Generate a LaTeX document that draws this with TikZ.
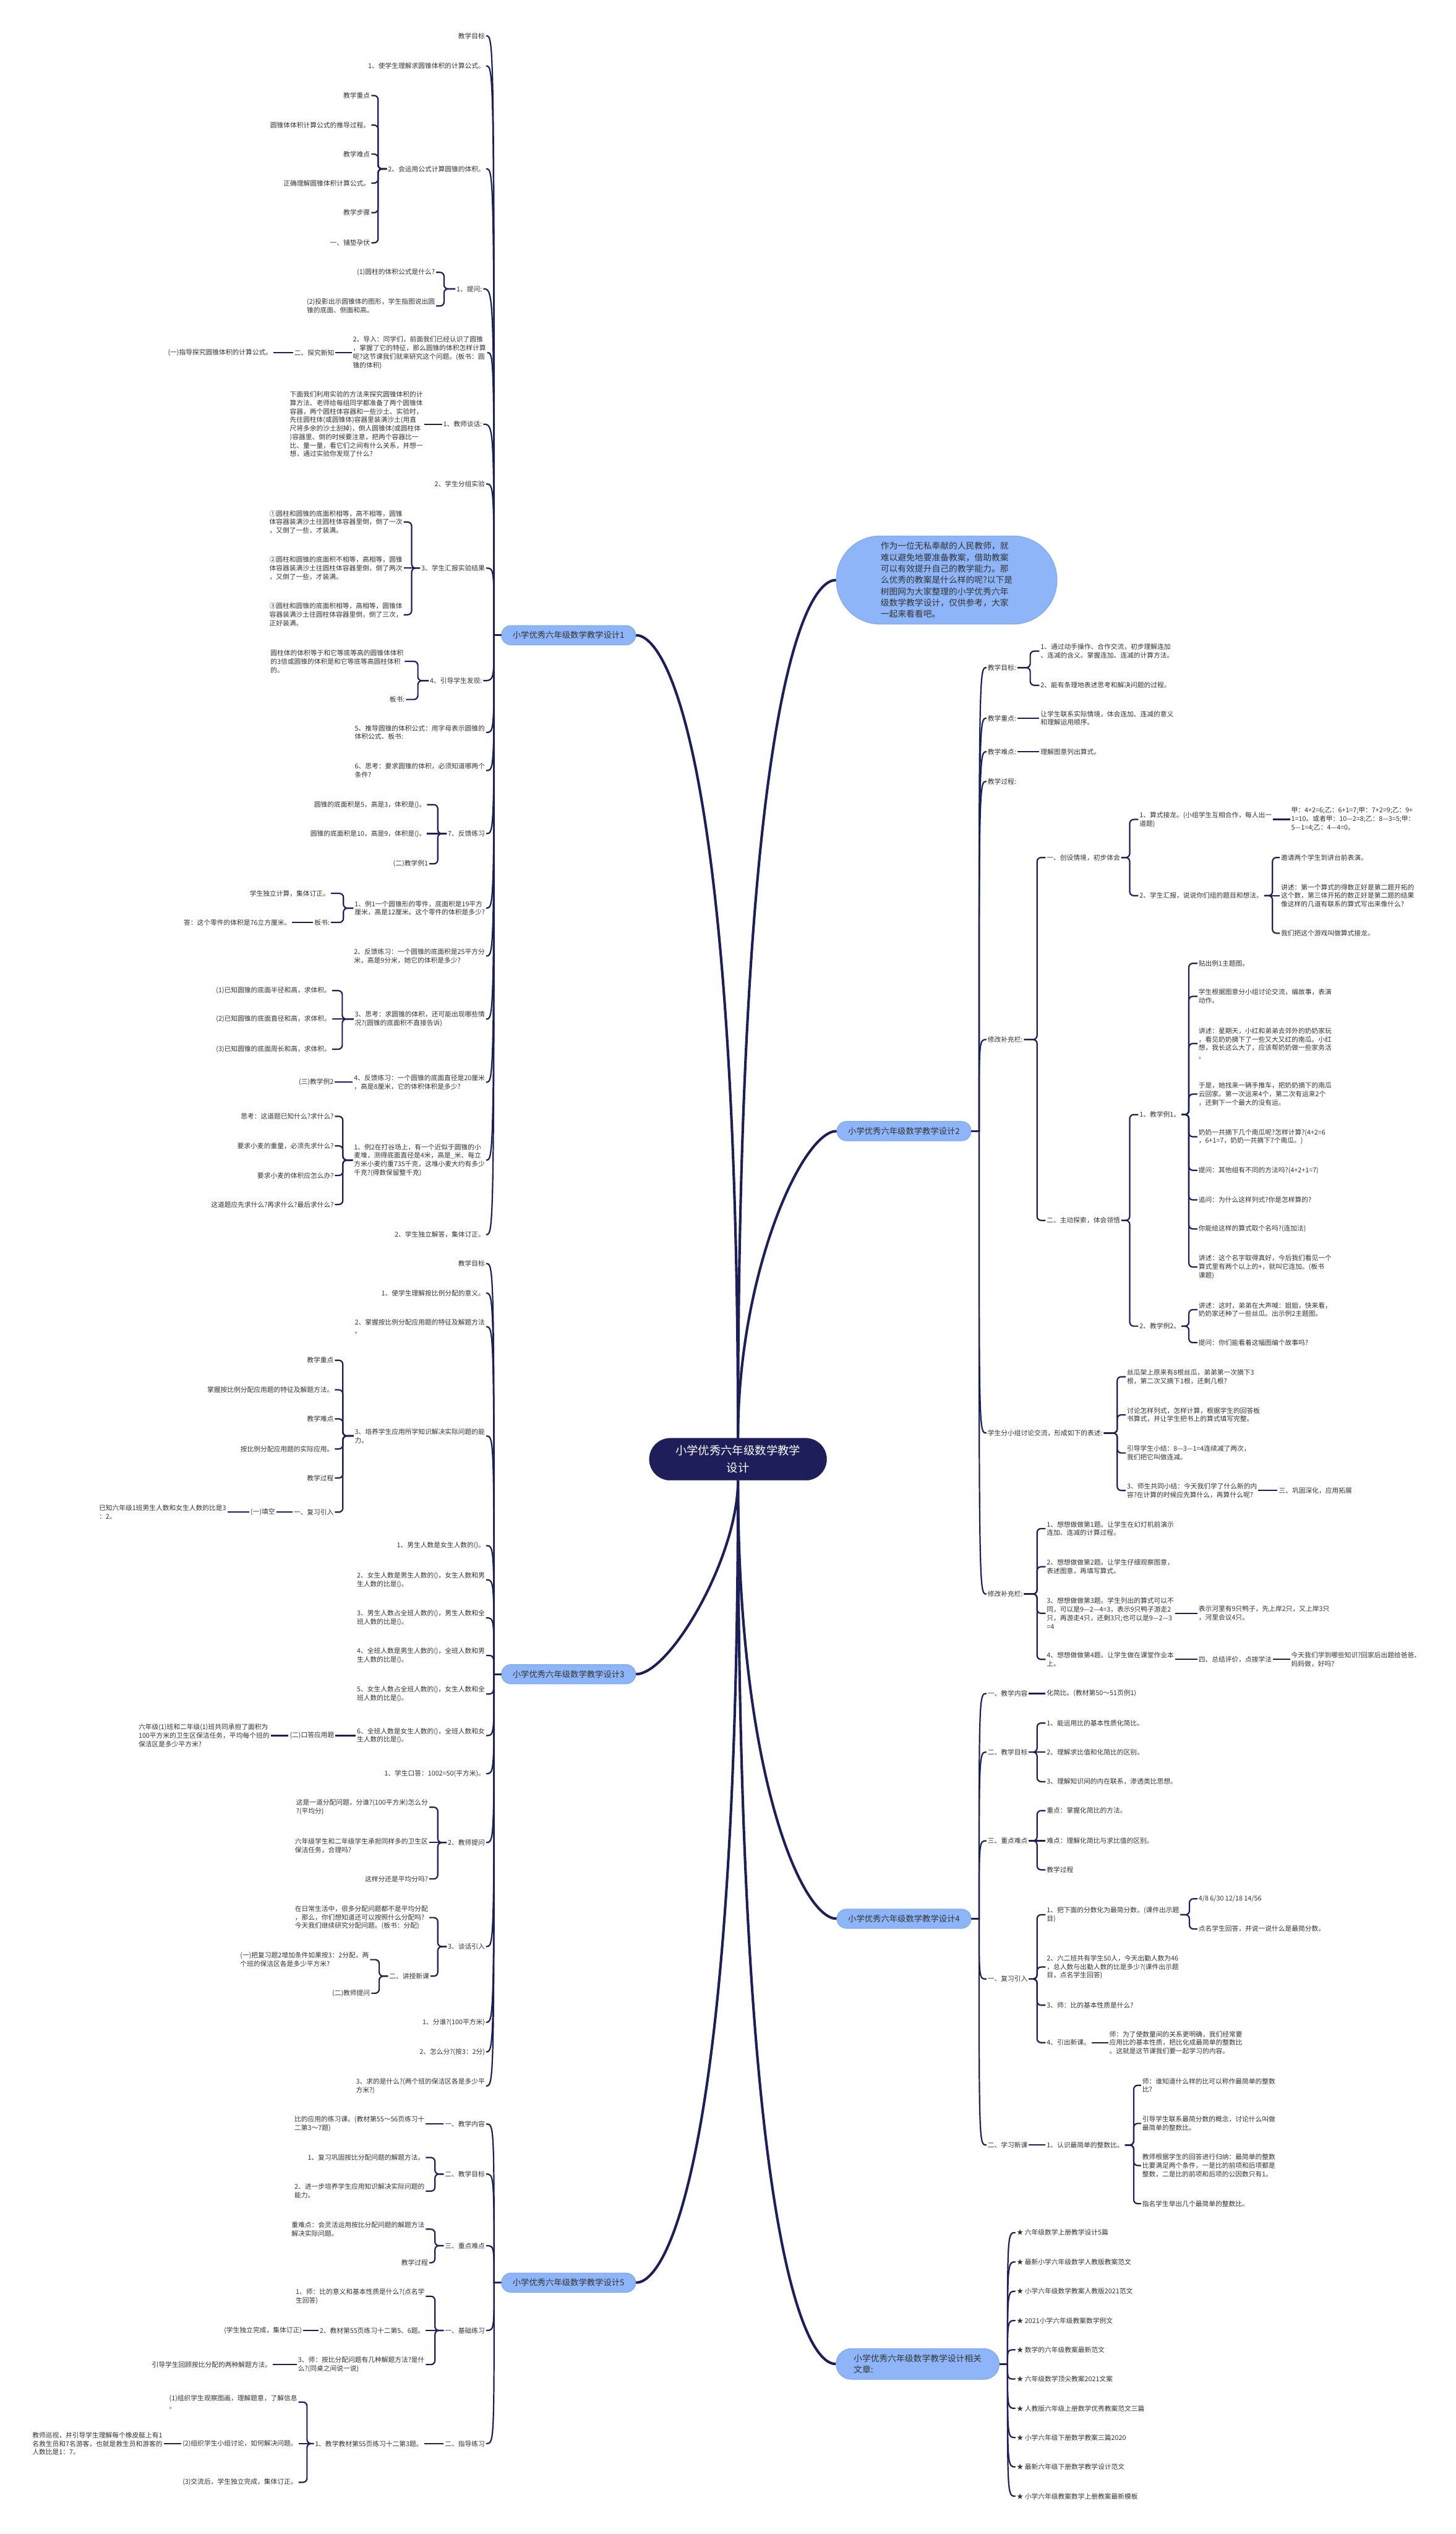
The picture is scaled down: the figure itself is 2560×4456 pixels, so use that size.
\documentclass[tikz,border=0pt]{standalone}
\usepackage{fontspec}
\newfontfamily\cjk{Noto Sans CJK SC}
\usetikzlibrary{calc}
\definecolor{lc}{RGB}{28,31,88}
\definecolor{cf}{RGB}{29,30,90}
\definecolor{bf}{HTML}{8DB5F8}
\definecolor{bd}{HTML}{7DA8F0}
\definecolor{tc}{HTML}{333333}
\newcommand\lff{\cjk\fontsize{11.7}{15}\selectfont}
\newcommand\lvf{\cjk\fontsize{14.5}{21}\selectfont}
\newcommand\intf{\cjk\fontsize{15}{20}\selectfont}
\newcommand\ctf{\cjk\fontsize{20}{30}\selectfont}
\newcommand\spL[3]{\draw[ln] let \p1=(#1.west), \p2=(#3.east) in (\p1) -- (#2pt,\y1) .. controls (#2pt,\y2) .. (\p2);}
\newcommand\spR[3]{\draw[ln] let \p1=(#1.east), \p2=(#3.west) in (\p1) -- (#2pt,\y1) .. controls (#2pt,\y2) .. (\p2);}
\newcommand\brL[3]{\draw[ln,rounded corners=7pt] let \p1=(#1.west), \p2=(#3.east) in (\p1) -- (#2pt,\y1) -- (#2pt,\y2) -- (\p2);}
\newcommand\brR[3]{\draw[ln,rounded corners=7pt] let \p1=(#1.east), \p2=(#3.west) in (\p1) -- (#2pt,\y1) -- (#2pt,\y2) -- (\p2);}
\newcommand\stL[2]{\draw[ln] (#1.west) -- (#2.east |- #1.west);}
\newcommand\stR[2]{\draw[ln] (#1.east) -- (#2.west |- #1.east);}
\tikzset{
 ln/.style={draw=lc,line width=2.4pt},
 mln/.style={draw=lc,line width=4.5pt},
 lf/.style={font=\lff,text=tc,inner sep=2pt,align=left},
 nl/.style={lf,anchor=east},
 nr/.style={lf,anchor=west},
 lv/.style={fill=bf,draw=bd,line width=1.2pt,rounded corners=17pt,minimum height=34pt,minimum width=236pt,font=\lvf,text=tc,inner sep=2pt,align=left},
 ctr/.style={fill=cf,draw=cf,rounded corners=37pt,minimum width=312pt,minimum height=74pt,text=white,font=\ctf,align=center,inner sep=2pt}
}
\begin{document}
\begin{tikzpicture}[x=1pt,y=-1pt]
\fill[white] (0,0) rectangle (2560,4456);
\useasboundingbox (0,0) rectangle (2560,4456);

% ---------- main nodes ----------
\node[ctr] (C) at (1298,2566) {小学优秀六年级数学教学\\设计};
\node[lv] (N1) at (1000,1117) {小学优秀六年级数学教学设计1};
\node[lv] (N2) at (1590,1989) {小学优秀六年级数学教学设计2};
\node[lv] (N3) at (1000,2944) {小学优秀六年级数学教学设计3};
\node[lv] (N4) at (1590,3374) {小学优秀六年级数学教学设计4};
\node[lv] (N5) at (1000,4014) {小学优秀六年级数学教学设计5};
\node[lv,minimum width=287pt,minimum height=54pt,rounded corners=27pt,font=\intf] (NR) at (1614,4157) {小学优秀六年级数学教学设计相关\\文章:};
\node[lv,minimum width=388pt,minimum height=155pt,rounded corners=77pt,font=\intf] (NI) at (1665,1020) {作为一位无私奉献的人民教师，就\\难以避免地要准备教案，借助教案\\可以有效提升自己的教学能力。那\\么优秀的教案是什么样的呢?以下是\\树图网为大家整理的小学优秀六年\\级数学教学设计，仅供参考，大家\\一起来看看吧。};

\draw[mln] (C.north) .. controls (1298,1367) and (1178,1117) .. (N1.east);
\draw[mln] (C.north) .. controls (1298,1270) and (1411,1020) .. (NI.west);
\draw[mln] (C.north) .. controls (1298,2239) and (1411,1989) .. (N2.west);
\draw[mln] (C.south) .. controls (1298,2739) and (1178,2944) .. (N3.east);
\draw[mln] (C.south) .. controls (1298,3124) and (1411,3374) .. (N4.west);
\draw[mln] (C.south) .. controls (1298,3764) and (1178,4014) .. (N5.east);
\draw[mln] (C.south) .. controls (1298,3907) and (1411,4157) .. (NR.west);

% ---------- branch 1 ----------
\node[nl] (a1) at (855,63) {教学目标};
\node[nl] (a2) at (855,116) {1、使学生理解求圆锥体积的计算公式。};
\node[nl] (a3) at (855,297) {2、会运用公式计算圆锥的体积。};
\node[nl] (a3a) at (653,168) {教学重点};
\node[nl] (a3b) at (653,220) {圆锥体体积计算公式的推导过程。};
\node[nl] (a3c) at (653,271) {教学难点};
\node[nl] (a3d) at (653,322) {正确理解圆锥体积计算公式。};
\node[nl] (a3e) at (653,374) {教学步骤};
\node[nl] (a3f) at (653,427) {一、铺垫孕伏};
\node[nl] (a4) at (850,508) {1、提问:};
\node[nl] (a4a) at (767,479) {(1)圆柱的体积公式是什么?};
\node[nl] (a4b) at (767,538) {(2)投影出示圆锥体的图形，学生指图说出圆\\锥的底面、侧面和高。};
\node[nl] (a5) at (857,620) {2、导入：同学们，前面我们已经认识了圆锥\\，掌握了它的特征，那么圆锥的体积怎样计算\\呢?这节课我们就来研究这个问题。(板书：圆\\锥的体积)};
\node[nl] (a5a) at (590,620) {二、探究新知};
\node[nl] (a5b) at (481,620) {(一)指导探究圆锥体积的计算公式。};
\node[nl] (a6) at (850,746) {1、教师谈话:};
\node[nl] (a6a) at (746,746) {下面我们利用实验的方法来探究圆锥体积的计\\算方法、老师给每组同学都准备了两个圆锥体\\容器，两个圆柱体容器和一些沙土、实验时，\\先往圆柱体(或圆锥体)容器里装满沙土(用直\\尺将多余的沙土刮掉)，倒人圆锥体(或圆柱体\\)容器里、倒的时候要注意，把两个容器比一\\比、量一量，看它们之间有什么关系，并想一\\想，通过实验你发现了什么?};
\node[nl] (a7) at (855,851) {2、学生分组实验};
\node[nl] (a8) at (855,999) {3、学生汇报实验结果};
\node[nl] (a8a) at (710,918) {①圆柱和圆锥的底面积相等，高不相等，圆锥\\体容器装满沙土往圆柱体容器里倒，倒了一次\\，又倒了一些，才装满。};
\node[nl] (a8b) at (710,999) {②圆柱和圆锥的底面积不相等，高相等，圆锥\\体容器装满沙土往圆柱体容器里倒，倒了两次\\，又倒了一些，才装满。};
\node[nl] (a8c) at (710,1081) {③圆柱和圆锥的底面积相等，高相等，圆锥体\\容器装满沙土往圆柱体容器里倒，倒了三次，\\正好装满。};
\node[nl] (a9) at (850,1197) {4、引导学生发现:};
\node[nl] (a9a) at (712,1163) {圆柱体的体积等于和它等底等高的圆锥体体积\\的3倍或圆锥的体积是和它等底等高圆柱体积\\的。};
\node[nl] (a9b) at (714,1230) {板书:};
\node[nl] (a10) at (855,1288) {5、推导圆锥的体积公式：用字母表示圆锥的\\体积公式、板书:};
\node[nl] (a11) at (855,1355) {6、思考：要求圆锥的体积，必须知道哪两个\\条件?};
\node[nl] (a12) at (855,1466) {7、反馈练习};
\node[nl] (a12a) at (751,1415) {圆锥的底面积是5，高是3，体积是()。};
\node[nl] (a12b) at (751,1466) {圆锥的底面积是10，高是9，体积是()。};
\node[nl] (a12c) at (755,1519) {(二)教学例1};
\node[nl] (a13) at (855,1597) {1、例1一个圆锥形的零件，底面积是19平方\\厘米，高是12厘米。这个零件的体积是多少?};
\node[nl] (a13a) at (582,1571) {学生独立计算，集体订正。};
\node[nl] (a13b) at (582,1622) {板书:};
\node[nl] (a13c) at (514,1622) {答：这个零件的体积是76立方厘米。};
\node[nl] (a14) at (855,1681) {2、反馈练习：一个圆锥的底面积是25平方分\\米，高是9分米，她它的体积是多少?};
\node[nl] (a15) at (855,1792) {3、思考：求圆锥的体积，还可能出现哪些情\\况?(圆锥的底面积不直接告诉)};
\node[nl] (a15a) at (584,1742) {(1)已知圆锥的底面半径和高，求体积。};
\node[nl] (a15b) at (584,1792) {(2)已知圆锥的底面直径和高，求体积。};
\node[nl] (a15c) at (584,1845) {(3)已知圆锥的底面周长和高，求体积。};
\node[nl] (a16) at (855,1903) {4、反馈练习：一个圆锥的底面直径是20厘米\\，高是8厘米，它的体积体积是多少?};
\node[nl] (a16a) at (589,1903) {(三)教学例2};
\node[nl] (a17) at (855,2040) {1、例2在打谷场上，有一个近似于圆锥的小\\麦堆，测得底面直径是4米，高是\_米、每立\\方米小麦约重735千克，这堆小麦大约有多少\\千克?(得数保留整千克)};
\node[nl] (a17a) at (589,1963) {思考：这道题已知什么?求什么?};
\node[nl] (a17b) at (589,2015) {要求小麦的重量，必须先求什么?};
\node[nl] (a17c) at (589,2067) {要求小麦的体积应怎么办?};
\node[nl] (a17d) at (589,2118) {这道题应先求什么?再求什么?最后求什么?};
\node[nl] (a18) at (855,2171) {2、学生独立解答，集体订正。};

\foreach \kid in {a1,a2,a3,a4,a5,a6,a7,a8,a9,a10,a11,a12,a13,a14,a15,a16,a17,a18} {\spL{N1}{869}{\kid}}
\foreach \kid in {a3a,a3b,a3c,a3d,a3e,a3f} {\brL{a3}{665}{\kid}}
\brL{a4}{781}{a4a} \brL{a4}{781}{a4b}
\stL{a5}{a5a} \stL{a5a}{a5b}
\stL{a6}{a6a}
\brL{a8}{724}{a8a} \stL{a8}{a8b} \brL{a8}{724}{a8c}
\brL{a9}{735}{a9a} \brL{a9}{735}{a9b}
\brL{a12}{770}{a12a} \stL{a12}{a12b} \brL{a12}{770}{a12c}
\brL{a13}{604}{a13a} \brL{a13}{604}{a13b} \stL{a13b}{a13c}
\brL{a15}{602}{a15a} \stL{a15}{a15b} \brL{a15}{602}{a15c}
\stL{a16}{a16a}
\foreach \kid in {a17a,a17b,a17c,a17d} {\brL{a17}{603}{\kid}}

% ---------- branch 3 ----------
\node[nl] (b1) at (855,2222) {教学目标};
\node[nl] (b2) at (855,2274) {1、使学生理解按比例分配的意义。};
\node[nl] (b3) at (855,2333) {2、掌握按比例分配应用题的特征及解题方法\\。};
\node[nl] (b4) at (855,2525) {3、培养学生应用所学知识解决实际问题的能\\力。};
\node[nl] (b4a) at (589,2392) {教学重点};
\node[nl] (b4b) at (589,2444) {掌握按比例分配应用题的特征及解题方法。};
\node[nl] (b4c) at (589,2495) {教学难点};
\node[nl] (b4d) at (589,2548) {按比例分配应用题的实际应用。};
\node[nl] (b4e) at (589,2599) {教学过程};
\node[nl] (b4f) at (589,2659) {一、复习引入};
\node[nl] (b4g) at (486,2659) {(一)填空};
\node[nl] (b4h) at (400,2659) {已知六年级1班男生人数和女生人数的比是3\\：2。};
\node[nl] (b5) at (855,2718) {1、男生人数是女生人数的()。};
\node[nl] (b6) at (855,2778) {2、女生人数是男生人数的()，女生人数和男\\生人数的比是()。};
\node[nl] (b7) at (855,2845) {3、男生人数占全班人数的()，男生人数和全\\班人数的比是()。};
\node[nl] (b8) at (855,2911) {4、全班人数是男生人数的()，全班人数和男\\生人数的比是()。};
\node[nl] (b9) at (855,2979) {5、女生人数占全班人数的()，女生人数和全\\班人数的比是()。};
\node[nl] (b10) at (855,3052) {6、全班人数是女生人数的()，全班人数和女\\生人数的比是()。};
\node[nl] (b10a) at (590,3052) {(二)口答应用题};
\node[nl] (b10b) at (476,3052) {六年级(1)班和二年级(1)班共同承担了面积为\\100平方米的卫生区保洁任务，平均每个班的\\保洁区是多少平方米?};
\node[nl] (b11) at (855,3119) {1、学生口答：1002=50(平方米)。};
\node[nl] (b12) at (855,3240) {2、教师提问};
\node[nl] (b12a) at (755,3178) {这是一道分配问题，分谁?(100平方米)怎么分\\?(平均分)};
\node[nl] (b12b) at (755,3246) {六年级学生和二年级学生承担同样多的卫生区\\保洁任务，合理吗?};
\node[nl] (b12c) at (755,3304) {这样分还是平均分吗?};
\node[nl] (b13) at (855,3423) {3、谈话引入};
\node[nl] (b13a) at (755,3372) {在日常生活中，很多分配问题都不是平均分配\\，那么，你们想知道还可以按照什么分配吗?\\今天我们继续研究分配问题。(板书：分配)};
\node[nl] (b13b) at (757,3475) {二、讲授新课};
\node[nl] (b13c) at (651,3446) {(一)把复习题2增加条件如果按3：2分配，两\\个班的保洁区各是多少平方米?};
\node[nl] (b13d) at (653,3505) {(二)教师提问};
\node[nl] (b14) at (855,3556) {1、分谁?(100平方米)};
\node[nl] (b15) at (855,3608) {2、怎么分?(按3：2分)};
\node[nl] (b16) at (855,3668) {3、求的是什么?(两个班的保洁区各是多少平\\方米?)};

\foreach \kid in {b1,b2,b3,b4,b5,b6,b7,b8,b9,b10,b11,b12,b13,b14,b15,b16} {\spL{N3}{869}{\kid}}
\foreach \kid in {b4a,b4b,b4c,b4d,b4e,b4f} {\brL{b4}{603}{\kid}}
\stL{b4f}{b4g} \stL{b4g}{b4h}
\stL{b10}{b10a} \stL{b10a}{b10b}
\brL{b12}{770}{b12a} \stL{b12}{b12b} \brL{b12}{770}{b12c}
\brL{b13}{770}{b13a} \brL{b13}{770}{b13b}
\brL{b13b}{667}{b13c} \brL{b13b}{667}{b13d}

% ---------- branch 5 ----------
\node[nl] (e1) at (855,3735) {一、教学内容};
\node[nl] (e1a) at (749,3735) {比的应用的练习课。(教材第55～56页练习十\\二第3～7题)};
\node[nl] (e2) at (855,3823) {二、教学目标};
\node[nl] (e2a) at (749,3794) {1、复习巩固按比分配问题的解题方法。};
\node[nl] (e2b) at (749,3853) {2、进一步培养学生应用知识解决实际问题的\\能力。};
\node[nl] (e3) at (855,3949) {三、重点难点};
\node[nl] (e3a) at (749,3920) {重难点：会灵活运用按比分配问题的解题方法\\解决实际问题。};
\node[nl] (e3b) at (755,3979) {教学过程};
\node[nl] (e4) at (855,4098) {一、基础练习};
\node[nl] (e4a) at (749,4038) {1、师：比的意义和基本性质是什么?(点名学\\生回答)};
\node[nl] (e4b) at (749,4098) {2、教材第55页练习十二第5、6题。};
\node[nl] (e4c) at (533,4098) {(学生独立完成，集体订正)};
\node[nl] (e4d) at (749,4158) {3、师：按比分配问题有几种解题方法?是什\\么?(同桌之间说一说)};
\node[nl] (e4e) at (480,4158) {引导学生回顾按比分配的两种解题方法。};
\node[nl] (e5) at (855,4297) {二、指导练习};
\node[nl] (e5a) at (746,4297) {1、教学教材第55页练习十二第3题。};
\node[nl] (e5b) at (525,4224) {(1)组织学生观察图画，理解题意，了解信息\\。};
\node[nl] (e5c) at (525,4297) {(2)组织学生小组讨论，如何解决问题。};
\node[nl] (e5d) at (288,4297) {教师巡视，并引导学生理解每个橡皮艇上有1\\名救生员和7名游客，也就是救生员和游客的\\人数比是1：7。};
\node[nl] (e5e) at (525,4365) {(3)交流后，学生独立完成，集体订正。};

\foreach \kid in {e1,e2,e3,e4,e5} {\spL{N5}{869}{\kid}}
\stL{e1}{e1a}
\brL{e2}{765}{e2a} \brL{e2}{765}{e2b}
\brL{e3}{765}{e3a} \brL{e3}{765}{e3b}
\brL{e4}{765}{e4a} \stL{e4}{e4b} \brL{e4}{765}{e4d}
\stL{e4b}{e4c} \stL{e4d}{e4e}
\stL{e5}{e5a}
\brL{e5a}{540}{e5b} \stL{e5a}{e5c} \brL{e5a}{540}{e5e}
\stL{e5c}{e5d}

% ---------- branch 2 ----------
\node[nr] (r1) at (1735,1174) {教学目标:};
\node[nr] (r1a) at (1828,1145) {1、通过动手操作、合作交流，初步理解连加\\、连减的含义。掌握连加、连减的计算方法。};
\node[nr] (r1b) at (1828,1205) {2、能有条理地表述思考和解决问题的过程。};
\node[nr] (r2) at (1735,1263) {教学重点:};
\node[nr] (r2a) at (1828,1263) {让学生联系实际情境，体会连加、连减的意义\\和理解运用顺序。};
\node[nr] (r3) at (1735,1322) {教学难点:};
\node[nr] (r3a) at (1828,1322) {理解图意列出算式。};
\node[nr] (r4) at (1735,1374) {教学过程:};
\node[nr] (r5) at (1735,1828) {修改补充栏:};
\node[nr] (r5a) at (1839,1508) {一、创设情境，初步体会};
\node[nr] (r5a1) at (2002,1441) {1、算式接龙。(小组学生互相合作，每人出一\\道题)};
\node[nr] (r5a1x) at (2269,1441) {甲：4+2=6;乙：6+1=7;甲：7+2=9;乙：9+\\1=10。或者甲：10—2=8;乙：8—3=5;甲：\\5—1=4;乙：4—4=0。};
\node[nr] (r5a2) at (2002,1575) {2、学生汇报，说说你们组的题目和想法。};
\node[nr] (r5a2a) at (2251,1508) {邀请两个学生到讲台前表演。};
\node[nr] (r5a2b) at (2251,1575) {讲述：第一个算式的得数正好是第二题开拓的\\这个数，第三体开拓的数正好是第二题的结果\\像这样的几道有联系的算式写出来像什么?};
\node[nr] (r5a2c) at (2251,1641) {我们把这个游戏叫做算式接龙。};
\node[nr] (r5b) at (1839,2146) {二、主动探索，体会领悟};
\node[nr] (r5b1) at (2002,1960) {1、教学例1。};
\node[nr] (r5b1a) at (2106,1694) {贴出例1主题图。};
\node[nr] (r5b1b) at (2106,1752) {学生根据图意分小组讨论交流，编故事，表演\\动作。};
\node[nr] (r5b1c) at (2106,1835) {讲述：星期天，小红和弟弟去郊外的奶奶家玩\\，看见奶奶摘下了一些又大又红的南瓜。小红\\想，我长这么大了，应该帮奶奶做一些家务活\\。};
\node[nr] (r5b1d) at (2106,1924) {于是，她找来一辆手推车，把奶奶摘下的南瓜\\云回家。第一次运来4个，第二次有运来2个\\，还剩下一个最大的没有运。};
\node[nr] (r5b1e) at (2106,1999) {奶奶一共摘下几个南瓜呢?怎样计算?(4+2=6\\，6+1=7，奶奶一共摘下7个南瓜。)};
\node[nr] (r5b1f) at (2106,2058) {提问：其他组有不同的方法吗?(4+2+1=7)};
\node[nr] (r5b1g) at (2106,2110) {追问：为什么这样列式?你是怎样算的?};
\node[nr] (r5b1h) at (2106,2161) {你能给这样的算式取个名吗?(连加法)};
\node[nr] (r5b1i) at (2106,2228) {讲述：这个名字取得真好，今后我们看见一个\\算式里有两个以上的+，就叫它连加。(板书\\课题)};
\node[nr] (r5b2) at (2002,2332) {2、教学例2。};
\node[nr] (r5b2a) at (2106,2303) {讲述：这时，弟弟在大声喊：姐姐，快来看，\\奶奶家还种了一些丝瓜。出示例2主题图。};
\node[nr] (r5b2b) at (2106,2361) {提问：你们能看着这幅图编个故事吗?};
\node[nr] (r6) at (1735,2520) {学生分小组讨论交流，形成如下的表述:};
\node[nr] (r6a) at (1980,2421) {丝瓜架上原来有8根丝瓜，弟弟第一次摘下3\\根，第二次又摘下1根，还剩几根?};
\node[nr] (r6b) at (1980,2488) {讨论怎样列式，怎样计算，根据学生的回答板\\书算式，并让学生把书上的算式填写完整。};
\node[nr] (r6c) at (1980,2555) {引导学生小结：8—3—1=4连续减了两次，\\我们把它叫做连减。};
\node[nr] (r6d) at (1980,2621) {3、师生共同小结：今天我们学了什么新的内\\容?在计算的时候应先算什么，再算什么呢?};
\node[nr] (r6e) at (2247,2621) {三、巩固深化，应用拓展};
\node[nr] (r7) at (1735,2803) {修改补充栏:};
\node[nr] (r7a) at (1839,2688) {1、想想做做第1题。让学生在幻灯机前演示\\连加、连减的计算过程。};
\node[nr] (r7b) at (1839,2755) {2、想想做做第2题。让学生仔细观察图意，\\表述图意，再填写算式。};
\node[nr] (r7c) at (1839,2837) {3、想想做做第3题。学生列出的算式可以不\\同，可以是9—2—4=3，表示9只鸭子游走2\\只，再游走4只，还剩3只;也可以是9—2—3\\=4};
\node[nr] (r7cx) at (2106,2837) {表示河里有9只鸭子，先上岸2只，又上岸3只\\，河里会议4只。};
\node[nr] (r7d) at (1839,2918) {4、想想做做第4题。让学生做在课堂作业本\\上。};
\node[nr] (r7dx) at (2106,2918) {四、总结评价，点拨学法};
\node[nr] (r7dy) at (2269,2918) {今天我们学到哪些知识?回家后出题给爸爸、\\妈妈做，好吗?};

\foreach \kid in {r1,r2,r3,r4,r5,r6,r7} {\spR{N2}{1722}{\kid}}
\brR{r1}{1812}{r1a} \brR{r1}{1812}{r1b}
\stR{r2}{r2a} \stR{r3}{r3a}
\brR{r5}{1824}{r5a} \brR{r5}{1824}{r5b}
\brR{r5a}{1987}{r5a1} \brR{r5a}{1987}{r5a2}
\stR{r5a1}{r5a1x}
\brR{r5a2}{2238}{r5a2a} \stR{r5a2}{r5a2b} \brR{r5a2}{2238}{r5a2c}
\brR{r5b}{1987}{r5b1} \brR{r5b}{1987}{r5b2}
\foreach \kid in {r5b1a,r5b1b,r5b1c,r5b1d,r5b1e,r5b1f,r5b1g,r5b1h,r5b1i} {\brR{r5b1}{2091}{\kid}}
\brR{r5b2}{2091}{r5b2a} \brR{r5b2}{2091}{r5b2b}
\foreach \kid in {r6a,r6b,r6c,r6d} {\brR{r6}{1965}{\kid}}
\stR{r6d}{r6e}
\brR{r7}{1824}{r7a} \brR{r7}{1824}{r7b} \brR{r7}{1824}{r7c} \brR{r7}{1824}{r7d}
\stR{r7c}{r7cx} \stR{r7d}{r7dx} \stR{r7dx}{r7dy}

% ---------- branch 4 ----------
\node[nr] (s1) at (1735,2978) {一、教学内容};
\node[nr] (s1a) at (1839,2978) {化简比。(教材第50～51页例1)};
\node[nr] (s2) at (1735,3081) {二、教学目标};
\node[nr] (s2a) at (1839,3030) {1、能运用比的基本性质化简比。};
\node[nr] (s2b) at (1839,3081) {2、理解求比值和化简比的区别。};
\node[nr] (s2c) at (1839,3133) {3、理解知识间的内在联系，渗透类比思想。};
\node[nr] (s3) at (1735,3237) {三、重点难点};
\node[nr] (s3a) at (1839,3184) {重点：掌握化简比的方法。};
\node[nr] (s3b) at (1839,3237) {难点：理解化简比与求比值的区别。};
\node[nr] (s3c) at (1839,3288) {教学过程};
\node[nr] (s4) at (1735,3480) {一、复习引入};
\node[nr] (s4a) at (1839,3367) {1、把下面的分数化为最简分数。(课件出示题\\目)};
\node[nr] (s4a1) at (2106,3339) {4/8 6/30 12/18 14/56};
\node[nr] (s4a2) at (2106,3392) {点名学生回答，并说一说什么是最简分数。};
\node[nr] (s4b) at (1839,3459) {2、六二班共有学生50人，今天出勤人数为46\\，总人数与出勤人数的比是多少?(课件出示题\\目，点名学生回答)};
\node[nr] (s4c) at (1839,3526) {3、师：比的基本性质是什么?};
\node[nr] (s4d) at (1839,3592) {4、引出新课。};
\node[nr] (s4dx) at (1949,3592) {师：为了使数量间的关系更明确，我们经常要\\应用比的基本性质，把比化成最简单的整数比\\。这就是这节课我们要一起学习的内容。};
\node[nr] (s5) at (1735,3772) {二、学习新课};
\node[nr] (s5a) at (1839,3772) {1、认识最简单的整数比。};
\node[nr] (s5a1) at (2007,3667) {师：谁知道什么样的比可以称作最简单的整数\\比?};
\node[nr] (s5a2) at (2007,3734) {引导学生联系最简分数的概念，讨论什么叫做\\最简单的整数比。};
\node[nr] (s5a3) at (2007,3808) {教师根据学生的回答进行归纳：最简单的整数\\比要满足两个条件，一是比的前项和后项都是\\整数，二是比的前项和后项的公因数只有1。};
\node[nr] (s5a4) at (2007,3875) {指名学生举出几个最简单的整数比。};

\foreach \kid in {s1,s2,s3,s4,s5} {\spR{N4}{1722}{\kid}}
\stR{s1}{s1a}
\brR{s2}{1824}{s2a} \stR{s2}{s2b} \brR{s2}{1824}{s2c}
\brR{s3}{1824}{s3a} \stR{s3}{s3b} \brR{s3}{1824}{s3c}
\foreach \kid in {s4a,s4b,s4c,s4d} {\brR{s4}{1824}{\kid}}
\brR{s4a}{2092}{s4a1} \brR{s4a}{2092}{s4a2}
\stR{s4d}{s4dx}
\stR{s5}{s5a}
\foreach \kid in {s5a1,s5a2,s5a3,s5a4} {\brR{s5a}{1994}{\kid}}

% ---------- related ----------
\node[nr] (t1) at (1786,3926) {★ 六年级数学上册教学设计5篇};
\node[nr] (t2) at (1786,3977.5) {★ 最新小学六年级数学人教版教案范文};
\node[nr] (t3) at (1786,4029) {★ 小学六年级数学教案人教版2021范文};
\node[nr] (t4) at (1786,4080.5) {★ 2021小学六年级教案数学例文};
\node[nr] (t5) at (1786,4132) {★ 数学的六年级教案最新范文};
\node[nr] (t6) at (1786,4183.5) {★ 六年级数学顶尖教案2021文案};
\node[nr] (t7) at (1786,4235) {★ 人教版六年级上册数学优秀教案范文三篇};
\node[nr] (t8) at (1786,4286.5) {★ 小学六年级下册数学教案三篇2020};
\node[nr] (t9) at (1786,4338) {★ 最新六年级下册数学教学设计范文};
\node[nr] (t10) at (1786,4389.5) {★ 小学六年级教案数学上册教案最新模板};
\foreach \kid in {t1,t2,t3,t4,t5,t6,t7,t8,t9,t10} {\spR{NR}{1772}{\kid}}
\end{tikzpicture}
\end{document}
